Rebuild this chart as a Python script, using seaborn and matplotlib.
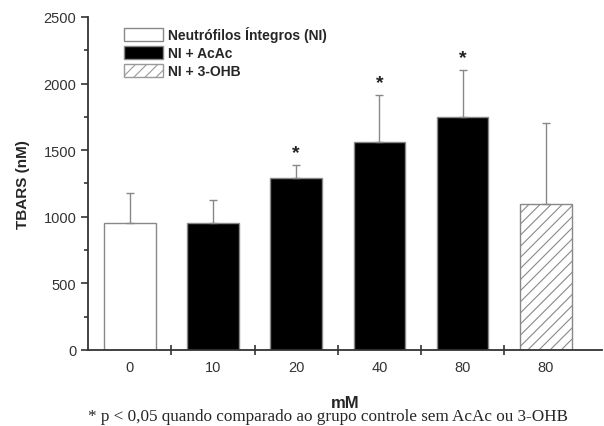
import matplotlib
matplotlib.use("Agg")
import matplotlib.pyplot as plt
from matplotlib.patches import Patch
from matplotlib.ticker import MultipleLocator, FixedLocator
import seaborn as sns
import pandas as pd

# data
labels = ["0", "10", "20", "40", "80", "80"]
groups = ["Neutrófilos Íntegros (NI)", "NI + AcAc", "NI + AcAc", "NI + AcAc", "NI + AcAc", "NI + 3-OHB"]
means = [952, 950, 1291, 1562, 1750, 1097]
errors = [226, 176, 96, 352, 352, 607]
signif = [False, False, True, True, True, False]

sns.set_theme(style="ticks")
plt.rcParams["font.family"] = ["Liberation Sans", "DejaVu Sans"]
plt.rcParams["hatch.color"] = "#999999"
plt.rcParams["hatch.linewidth"] = 0.8

df = pd.DataFrame({"pos": range(len(labels)), "val": means, "group": groups})
palette = {"Neutrófilos Íntegros (NI)": "white", "NI + AcAc": "black", "NI + 3-OHB": "white"}

fig = plt.figure(figsize=(6.04, 4.27), dpi=100)
ax = fig.add_axes([0.146, 0.178, 0.85, 0.78])

sns.barplot(data=df, x="pos", y="val", hue="group", palette=palette, dodge=False,
            width=0.62, edgecolor="#888888", linewidth=1.0, legend=False, ax=ax)

# hatch the 3-OHB bar
for p in ax.patches:
    if abs(p.get_x() + p.get_width() / 2 - 5) < 0.1 and p.get_height() > 0:
        p.set_hatch("///")

ax.errorbar(df["pos"], means, yerr=[[0] * len(errors), errors], fmt="none",
            ecolor="#888888", elinewidth=1.0, capsize=3, capthick=1.0)

for i, s in enumerate(signif):
    if s:
        ax.text(i, means[i] + errors[i] + 30, "*", ha="center", va="bottom",
                fontsize=14, fontweight="bold", color="#222222")

ax.set_xlim(-0.5, 5.67)
ax.set_ylim(0, 2500)
ax.xaxis.set_major_locator(FixedLocator([0.5, 1.5, 2.5, 3.5, 4.5]))
ax.set_xticklabels([])
ax.xaxis.set_minor_locator(FixedLocator(list(range(len(labels)))))
ax.set_xticklabels(labels, minor=True)
ax.tick_params(axis="x", which="major", direction="inout", length=7, width=1.2, color="#333333")
ax.tick_params(axis="x", which="minor", length=0, labelsize=10.5, labelcolor="#333333", pad=7.5)
ax.yaxis.set_major_locator(MultipleLocator(500))
ax.yaxis.set_minor_locator(MultipleLocator(250))
ax.tick_params(axis="y", which="major", length=5, width=1.2, color="#333333", labelsize=10.5, labelcolor="#333333")
ax.tick_params(axis="y", which="minor", length=3, width=1.2, color="#333333")

for side in ["top", "right"]:
    ax.spines[side].set_visible(False)
for side in ["left", "bottom"]:
    ax.spines[side].set_color("#333333")
    ax.spines[side].set_linewidth(1.3)

ax.set_xlabel("mM", fontsize=12, fontweight="bold", labelpad=14.5)
ax.set_ylabel("TBARS (nM)", fontsize=11, fontweight="bold", labelpad=10)

handles = [
    Patch(facecolor="white", edgecolor="#888888", label="Neutrófilos Íntegros (NI)"),
    Patch(facecolor="black", edgecolor="#888888", label="NI + AcAc"),
    Patch(facecolor="white", edgecolor="#999999", hatch="///", label="NI + 3-OHB"),
]
ax.legend(handles=handles, loc="upper left", bbox_to_anchor=(0.045, 1.01), frameon=False,
          prop={"weight": "bold", "size": 10}, handlelength=2.8, handleheight=1.0,
          labelspacing=0.3, handletextpad=0.4)

fig.text(0.543, 0.014, "* p < 0,05 quando comparado ao grupo controle sem AcAc ou 3-OHB",
         ha="center", va="baseline", fontsize=12.3, family="Liberation Serif")

fig.savefig("out.png", dpi=100)
